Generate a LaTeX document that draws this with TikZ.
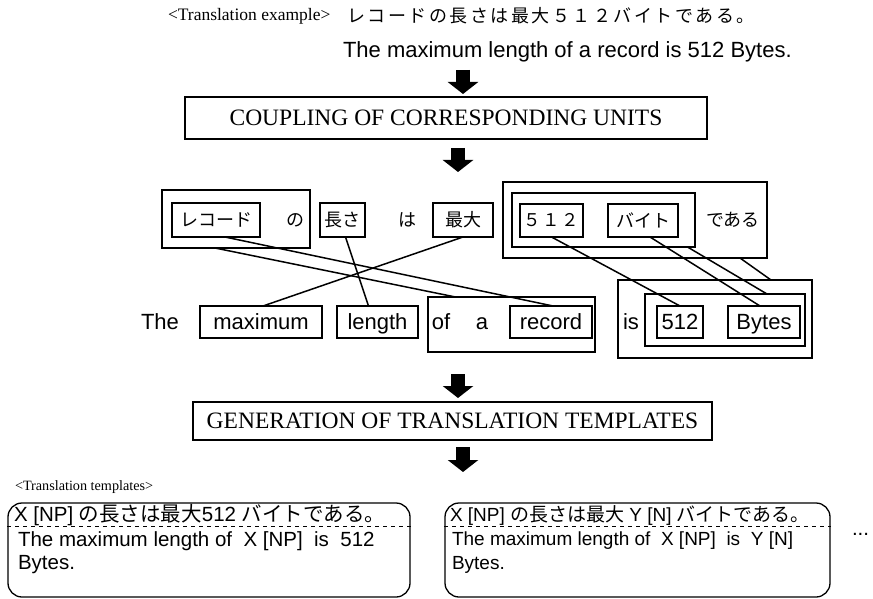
\documentclass[tikz,border=0pt]{standalone}
\usepackage{fontspec}
\setmainfont{Liberation Serif}
\newfontfamily\arialf{Liberation Sans}
\newfontfamily\jpf{Noto Sans CJK JP}
\newfontfamily\jpsp{Noto Sans CJK JP}[LetterSpace=14]
\newfontfamily\jpdig{Noto Sans CJK JP}[LetterSpace=8]
\usetikzlibrary{arrows.meta,calc}
\begin{document}
\begin{tikzpicture}[x=1pt,y=-1pt,
  box/.style={draw, line width=1.3pt, inner sep=0pt, outer sep=0pt},
  txt/.style={inner sep=0pt, outer sep=0pt},
  conn/.style={line width=1.5pt},
  bigarrow/.style={line width=14pt, -{Triangle[width=30pt,length=12pt]}},
  tbox/.style={draw, line width=1.3pt, rounded corners=14pt, inner sep=0pt},
  dline/.style={line width=1.1pt, dash pattern=on 4pt off 4pt},
  ser/.style={font=\fontsize{23.5}{26}\selectfont},
  sans/.style={font=\arialf\fontsize{22}{24}\selectfont, text height=15.8pt, text depth=0pt},
  jp/.style={font=\jpf\fontsize{18}{20}\selectfont},
  tsans/.style={font=\arialf\fontsize{20.5}{23}\selectfont},
  tsanss/.style={font=\arialf\fontsize{19}{21}\selectfont}]
\useasboundingbox (0,0) rectangle (873,599);

% top lines
\node[txt, anchor=west, font=\fontsize{17.5}{19}\selectfont] (tex) at (168,16) {<Translation example>};
\node[txt, anchor=west, font=\jpsp\fontsize{18}{20}\selectfont] (jtop) at (347,16) {レコードの長さは最大５１２バイトである。};
\node[txt, anchor=west, sans] (etop) at (343,50) {The maximum length of a record is 512 Bytes.};

% stage boxes
\node[box, ser, minimum width=522pt, minimum height=42pt] (coup) at (446,118) {COUPLING OF CORRESPONDING UNITS};
\node[box, ser, minimum width=519pt, minimum height=38pt] (gen) at (452.5,421) {GENERATION OF TRANSLATION TEMPLATES};

% block arrows
\coordinate (a1s) at (463,70); \coordinate (a1e) at (463,94);
\coordinate (a2s) at (458,148); \coordinate (a2e) at (458,172);
\coordinate (a3s) at (458,374); \coordinate (a3e) at (458,398);
\coordinate (a4s) at (463,447); \coordinate (a4e) at (463,472);
\draw[bigarrow] (a1s) -- (a1e);
\draw[bigarrow] (a2s) -- (a2e);
\draw[bigarrow] (a3s) -- (a3e);
\draw[bigarrow] (a4s) -- (a4e);

% Japanese row
\node[box, minimum width=148pt, minimum height=58pt] (g1) at (236,219) {};
\node[box, jp, minimum width=88pt, minimum height=34pt] (rekodo) at (216,220) {レコード};
\node[txt, jp] (no) at (295,220) {の};
\node[box, jp, minimum width=45pt, minimum height=34pt] (nagasa) at (342.5,220) {長さ};
\node[txt, jp] (wa) at (407,220) {は};
\node[box, jp, minimum width=60pt, minimum height=34pt] (saidai) at (463,220) {最大};
\node[box, minimum width=264pt, minimum height=76pt] (bo) at (635,220) {};
\node[box, minimum width=183pt, minimum height=54pt] (bi) at (603.5,220) {};
\node[box, font=\jpdig\fontsize{17.5}{19}\selectfont, minimum width=63pt, minimum height=33pt] (j512) at (551.5,220.5) {５１２};
\node[box, jp, minimum width=70pt, minimum height=33pt] (baito) at (643,220.5) {バイト};
\node[txt, jp] (dearu) at (733,220) {である};

% English row
\node[txt, sans] (the) at (160,322) {The};
\node[box, sans, minimum width=122pt, minimum height=32pt] (maximum) at (261,322) {maximum};
\node[box, sans, minimum width=81pt, minimum height=32pt] (length) at (377.5,322) {length};
\node[box, minimum width=167pt, minimum height=55pt] (ofa) at (511.5,324.5) {};
\node[txt, sans] (of) at (441,322) {of};
\node[txt, sans] (a) at (482,322) {a};
\node[box, sans, minimum width=82pt, minimum height=32pt] (record) at (551,322) {record};
\node[box, minimum width=194pt, minimum height=78pt] (iso) at (715,319) {};
\node[txt, sans] (is) at (631,322) {is};
\node[box, minimum width=160pt, minimum height=52pt] (isi) at (725,320) {};
\node[box, sans, minimum width=46pt, minimum height=32pt] (e512) at (680,322) {512};
\node[box, sans, minimum width=72pt, minimum height=32pt] (bytes) at (764,322) {Bytes};

% connectors
\draw[conn] ([xshift=9pt]rekodo.south) -- ([xshift=2pt]record.north);
\draw[conn] ([xshift=-21pt]g1.south) -- ([xshift=-56pt]ofa.north);
\draw[conn] ([xshift=3pt]nagasa.south) -- ([xshift=-9pt]length.north);
\draw[conn] (saidai.south) -- ([xshift=2pt]maximum.north);
\draw[conn] (j512.south) -- (e512.north);
\draw[conn] ([xshift=7pt]baito.south) -- ([xshift=-4pt]bytes.north);
\draw[conn] ([xshift=84pt]bi.south) -- ([xshift=42pt]isi.north);
\draw[conn] ([xshift=105pt]bo.south) -- ([xshift=56pt]iso.north);

% templates
\node[txt, anchor=west, font=\fontsize{14.2}{16}\selectfont] (ttl) at (15,487) {<Translation templates>};
\node[tbox, minimum width=402pt, minimum height=94pt] (t1) at (209,550) {};
\node[tbox, minimum width=385pt, minimum height=94pt] (t2) at (637.5,550) {};
\draw[dline] ([yshift=-24pt]t1.north west) -- ([yshift=-24pt]t1.north east);
\draw[dline] ([yshift=-24pt]t2.north west) -- ([yshift=-24pt]t2.north east);

\node[txt, anchor=west, tsans] (t1a) at (14,515) {X [NP] {\jpf の長さは最大}512 {\jpf バイトである。}};
\node[txt, anchor=west, tsans] (t1b) at (18,541) {The maximum length of \ X [NP] \ is \ 512};
\node[txt, anchor=west, tsans] (t1c) at (18,565) {Bytes.};
\node[txt, anchor=west, tsanss] (t2a) at (450,515) {X [NP] {\jpf の長さは最大} Y [N] {\jpf バイトである。}};
\node[txt, anchor=west, tsanss] (t2b) at (452,541) {The maximum length of \ X [NP] \ is \ Y [N]};
\node[txt, anchor=west, tsanss] (t2c) at (452,565) {Bytes.};
\node[txt, anchor=west, tsans] (dots) at (852,534) {...};
\end{tikzpicture}
\end{document}
